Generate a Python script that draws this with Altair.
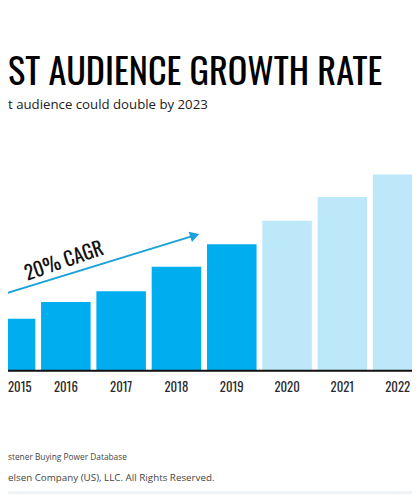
import altair as alt
import pandas as pd

# ---- data ----
years = [2015, 2016, 2017, 2018, 2019, 2020, 2021, 2022]
audience = [53, 70, 81, 106, 129, 153, 177, 200]
kind = ["actual"] * 5 + ["projected"] * 3
year_labels = ["2015", "2016", "2017", "2018", "2019", "2020", "2021", "2022"]

arrow_x = [2014.75, 2018.33]
arrow_y = [76, 138]
cagr_label = "20% CAGR"
cagr_x = [2015.97]
cagr_y = [111]

title_text = "ST AUDIENCE GROWTH RATE"
subtitle_text = "t audience could double by 2023"
source_text = "stener Buying Power Database"
copyright_text = "elsen Company (US), LLC. All Rights Reserved."

W, H = 412, 491
COND = "Oswald, Roboto Condensed, sans-serif"

bars_df = pd.DataFrame({"year": years, "value": audience, "kind": kind, "label": year_labels})
bars_df["x0"] = bars_df["year"] - 0.448
bars_df["x1"] = bars_df["year"] + 0.448
bars_df["zero"] = 0

xs = alt.Scale(domain=[2014.954, 2022.259], nice=False, zero=False)
ys = alt.Scale(domain=[-126, 365], nice=False, zero=False)

base = alt.Chart(bars_df)

bars = base.mark_bar(clip=True).encode(
    x=alt.X("x0:Q", scale=xs, axis=None),
    x2="x1:Q",
    y=alt.Y("value:Q", scale=ys, axis=None),
    y2="zero:Q",
    color=alt.Color("kind:N", scale=alt.Scale(domain=["actual", "projected"],
                                              range=["#00AEEF", "#BDE8F9"]), legend=None),
)

label_style = dict(font=COND, fontSize=13, fontWeight=400, color="#2a2a2a", baseline="middle")
labels = alt.Chart(bars_df.iloc[1:]).mark_text(**label_style).encode(
    x=alt.X("year:Q", scale=xs, axis=None),
    y=alt.value(383),
    text="label:N",
)
first_label = alt.Chart(bars_df.iloc[[0]]).mark_text(align="left", **label_style).encode(
    x=alt.value(0),
    y=alt.value(383),
    text="label:N",
)

baseline_rule = alt.Chart(pd.DataFrame({"v": [0]})).mark_rule(color="#111111", strokeWidth=2).encode(
    y=alt.Y("v:Q", scale=ys, axis=None),
    x=alt.value(0), x2=alt.value(W),
)

arrow_df = pd.DataFrame({"x": arrow_x, "y": arrow_y})
arrow_line = alt.Chart(arrow_df).mark_line(color="#1BA1DB", strokeWidth=2, clip=True).encode(
    x=alt.X("x:Q", scale=xs, axis=None),
    y=alt.Y("y:Q", scale=ys, axis=None),
)
arrow_head = alt.Chart(arrow_df.iloc[[1]]).mark_point(
    shape="triangle-right", filled=True, color="#1BA1DB", size=120, angle=342, opacity=1
).encode(
    x=alt.X("x:Q", scale=xs, axis=None),
    y=alt.Y("y:Q", scale=ys, axis=None),
)

cagr = alt.Chart(pd.DataFrame({"x": cagr_x, "y": cagr_y, "t": [cagr_label]})).mark_text(
    font=COND, fontSize=20, fontWeight=400, color="#111111", angle=341, baseline="middle"
).encode(
    x=alt.X("x:Q", scale=xs, axis=None),
    y=alt.Y("y:Q", scale=ys, axis=None),
    text="t:N",
)

texts_df = pd.DataFrame({
    "t": [title_text, subtitle_text, source_text, copyright_text],
    "py": [74, 98, 456, 478],
    "fs": [37, 13.5, 8.5, 10],
    "fw": [400, 400, 400, 400],
    "font": [COND, "Open Sans", "Open Sans", "Open Sans"],
    "col": ["#000000", "#222222", "#444444", "#444444"],
})

def text_layer(i):
    r = texts_df.iloc[i]
    return alt.Chart(texts_df.iloc[[i]]).mark_text(
        align="left", baseline="alphabetic", font=r["font"], fontSize=float(r["fs"]),
        fontWeight=int(r["fw"]), color=r["col"]
    ).encode(x=alt.value(0), y=alt.value(float(r["py"])), text="t:N")

band = alt.Chart(pd.DataFrame({"v": [1]})).mark_rect(color="#EEF2F5").encode(
    x=alt.value(0), x2=alt.value(W), y=alt.value(H - 3), y2=alt.value(H)
)

chart = alt.layer(
    bars, baseline_rule, labels, first_label, arrow_line, arrow_head, cagr,
    text_layer(0), text_layer(1), text_layer(2), text_layer(3), band
).properties(
    width=W, height=H, padding=0, autosize=alt.AutoSizeParams(type="none"),
    background="white"
).configure_view(stroke=None)

chart.save("out.html", embed_options={"renderer": "svg", "actions": False})
